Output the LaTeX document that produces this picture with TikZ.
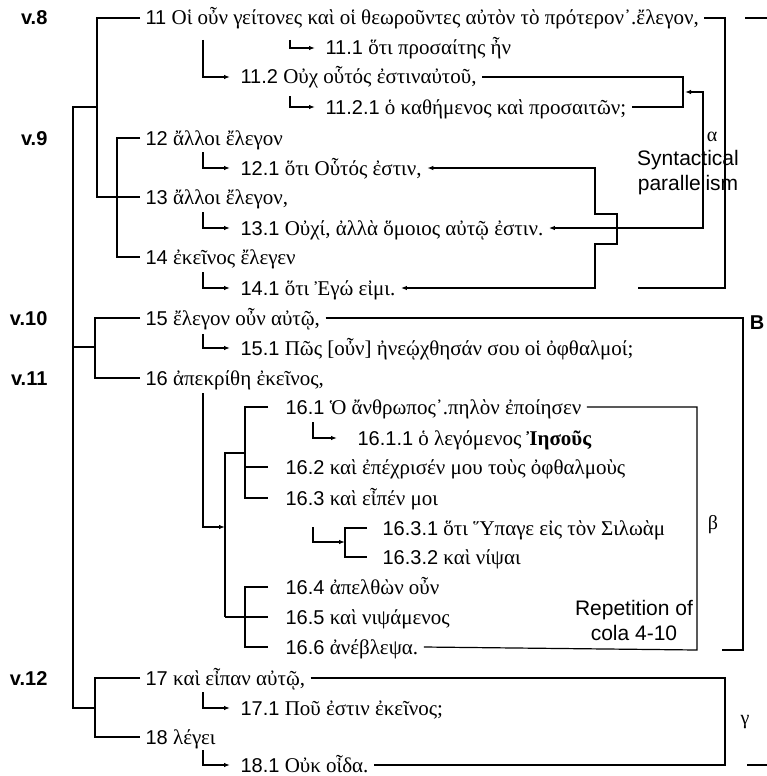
\documentclass[tikz,border=0pt]{standalone}
\usepackage{fontspec}
\setmainfont{Liberation Serif}
\newfontfamily\sansf{Liberation Sans}
\usetikzlibrary{arrows.meta}
\newcommand{\nm}[1]{{\sansf\fontsize{20}{24}\selectfont #1}}
\newcommand{\gkfont}{\fontsize{21}{24}\selectfont}
\begin{document}
\begin{tikzpicture}[x=1pt,y=-1pt,line width=1.2pt,
  row/.style={anchor=base west,inner xsep=5pt,inner ysep=0pt,text height=16pt,text depth=2pt,font=\gkfont},
  arr/.style={-{Latex[length=6pt,width=4.5pt]},shorten >=5pt},
  arrb/.style={{Latex[length=6pt,width=4.5pt]}-{Latex[length=6pt,width=4.5pt]}},
  vlbl/.style={font=\sansf\bfseries\fontsize{20}{24}\selectfont,anchor=base east,inner sep=0pt},
  note/.style={font=\sansf\fontsize{21}{26}\selectfont,align=center,inner sep=0pt},
  glbl/.style={font=\fontsize{20}{22}\selectfont,inner sep=0pt}]
\useasboundingbox[fill=white] (0,0) rectangle (767,776);

% verse labels
\node[vlbl] (v8) at (48,25) {v.8};
\node[vlbl] (v9) at (48,145) {v.9};
\node[vlbl] (v10) at (48,325) {v.10};
\node[vlbl] (v11) at (48,385) {v.11};
\node[vlbl] (v12) at (48,685) {v.12};

% rows
\node[row] (n11) at (140,25) {\nm{11} Οἱ οὖν γείτονες καὶ οἱ θεωροῦντες αὐτὸν τὸ πρότερον᾿.ἔλεγον,};
\node[row] (n111) at (320,55) {\nm{11.1} ὅτι προσαίτης ἦν};
\node[row] (n112) at (235,84) {\nm{11.2} Οὐχ οὗτός ἐστιναὐτοῦ,};
\node[row] (n1121) at (320,114) {\nm{11.2.1} ὁ καθήμενος καὶ προσαιτῶν;};
\node[row] (n12) at (140,145) {\nm{12} ἄλλοι ἔλεγον};
\node[row] (n121) at (235,175) {\nm{12.1} ὅτι Οὗτός ἐστιν,};
\node[row] (n13) at (140,204) {\nm{13} ἄλλοι ἔλεγον,};
\node[row] (n131) at (235,235) {\nm{13.1} Οὐχί, ἀλλὰ ὅμοιος αὐτῷ ἐστιν.};
\node[row] (n14) at (140,264) {\nm{14} ἐκεῖνος ἔλεγεν};
\node[row] (n141) at (235,295) {\nm{14.1} ὅτι Ἐγώ εἰμι.};
\node[row] (n15) at (140,325) {\nm{15} ἔλεγον οὖν αὐτῷ,};
\node[row] (n151) at (235,355) {\nm{15.1} Πῶς [οὖν] ἠνεῴχθησάν σου οἱ ὀφθαλμοί;};
\node[row] (n16) at (140,385) {\nm{16} ἀπεκρίθη ἐκεῖνος,};
\node[row] (n161) at (280,414) {\nm{16.1} Ὁ ἄνθρωπος᾿.πηλὸν ἐποίησεν};
\node[row] (n1611) at (352,445) {\nm{16.1.1} ὁ λεγόμενος \textbf{Ἰησοῦς}};
\node[row] (n162) at (280,474) {\nm{16.2} καὶ ἐπέχρισέν μου τοὺς ὀφθαλμοὺς};
\node[row] (n163) at (280,505) {\nm{16.3} καὶ εἶπέν μοι};
\node[row] (n1631) at (377,535) {\nm{16.3.1} ὅτι Ὕπαγε εἰς τὸν Σιλωὰμ};
\node[row] (n1632) at (377,564) {\nm{16.3.2} καὶ νίψαι};
\node[row] (n164) at (280,594) {\nm{16.4} ἀπελθὼν οὖν};
\node[row] (n165) at (280,624) {\nm{16.5} καὶ νιψάμενος};
\node[row] (n166) at (280,654) {\nm{16.6} ἀνέβλεψα.};
\node[row] (n17) at (140,685) {\nm{17} καὶ εἶπαν αὐτῷ,};
\node[row] (n171) at (235,715) {\nm{17.1} Ποῦ ἐστιν ἐκεῖνος;};
\node[row] (n18) at (140,744) {\nm{18} λέγει};
\node[row] (n181) at (235,772) {\nm{18.1} Οὐκ οἶδα.};

% side labels
\node[glbl] (alpha) at (712,137) {α};
\node[note] (synt) at (688,173) {Syntactical\\[-1pt]parallelism};
\node[font=\sansf\bfseries\fontsize{20}{24}\selectfont,inner sep=0pt] (B) at (757,323) {B};
\node[glbl] (beta) at (713,525) {β};
\node[note] (rep) at (634,620) {Repetition of\\[-1pt]cola 4-10};
\node[glbl] (gamma) at (745,722) {γ};

% coordinates
\coordinate (j11) at (97,197);
\coordinate (jm) at (97,107);
\coordinate (mbot) at (73,708);
\coordinate (j12) at (117,257);
\coordinate (j15) at (73,347);
\coordinate (j15b) at (95,378);
\coordinate (j17) at (95,737);

% left brackets
\draw (n11.west) -| (j11) -- (n13.west);
\draw (jm) -| (mbot) -- (95,708);
\draw (n12.west) -| (j12) -- (n14.west);
\draw (j15) -- (95,347);
\draw (n15.west) -| (j15b) -- (n16.west);
\draw (n17.west) -| (j17) -- (n18.west);

% hook arrows
\draw[arr] (290,40) |- (n111.west);
\draw[arr] (203,40) |- (n112.west);
\draw[arr] (290,96) |- (n1121.west);
\draw[arr] (203,152) |- (n121.west);
\draw[arr] (203,212) |- (n131.west);
\draw[arr] (203,272) |- (n141.west);
\draw[arr] (203,334) |- (n151.west);
\draw[arr,shorten >=0pt] (203,393) |- (225,527);
\draw[arr,shorten >=15pt] (313,422) |- (n1611.west);
\draw[arr,shorten >=0pt] (313,527) |- (345,542);
\draw[arr] (203,692) |- (n171.west);
\draw[arr] (203,750) |- (n181.west);

% 16 group
\draw (245,453) -| (225,617);
\draw[shorten <=12pt,shorten >=12pt] (n161.west) -| (245,498) -- (n163.west);
\draw[shorten >=12pt] (245,467) -- (n162.west);
\draw[shorten <=12pt,shorten >=12pt] (n164.west) -| (245,647) -- (n166.west);
\draw[shorten >=12pt] (225,617) -- (n165.west);
\draw[shorten <=10pt,shorten >=10pt] (n1631.west) -| (345,557) -- (n1632.west);

% right side
\draw (n11.east) -| (725,288) -- (638,288);
\draw (745,18) -- (767,18);
\draw (n112.east) -| (683,107) -- (n1121.east);
\draw[arrb] (n131.east) -| (703,92) -- (685,92);
\draw[arrb] (n121.east) -| (595,214) -| (617,244) -| (595,288) -- (n141.east);
\draw (n15.east) -| (743,650) -- (722,650);
\draw (n161.east) -| (697,650) -- (n166.east);
\draw (n17.east) -| (725,765) -- (n181.east);
\draw (747,765) -- (767,765);
\end{tikzpicture}
\end{document}
